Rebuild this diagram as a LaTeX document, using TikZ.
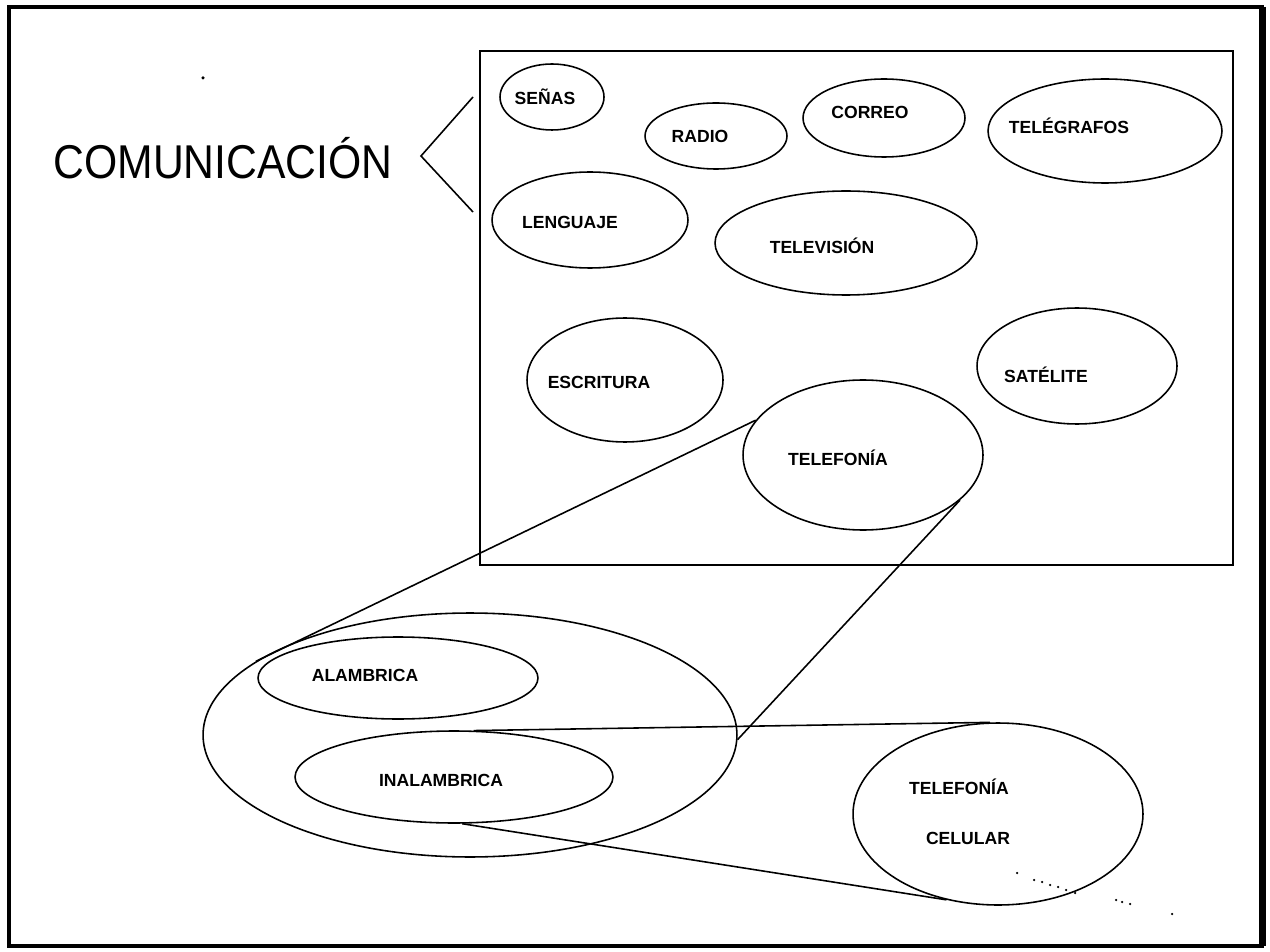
\documentclass[tikz,border=0pt]{standalone}
\usepackage{fontspec}
\setmainfont{Liberation Sans}
\usepackage{tikz}
\usetikzlibrary{shapes.geometric}

\begin{document}
\begin{tikzpicture}[x=0.02cm,y=-0.02cm,line width=0.9pt,
    oval/.style={shape=ellipse,draw=black,inner sep=0pt},
    lbl/.style={font=\bfseries\fontsize{10}{12}\selectfont,inner sep=0pt}]
    \useasboundingbox (0,0) rectangle (1270,952);
    \draw[line width=2.4pt] (9,7) rectangle (1262,946);
    \draw[line width=4pt] (1262,7) -- (1262,946);

    \node[font=\fontsize{27}{30}\selectfont,xscale=0.9] (com) at (223,158) {COMUNICACIÓN};
    \coordinate (tip) at (421,156);
    \coordinate (up) at (473,97);
    \coordinate (dn) at (473,212);
    \draw (up) -- (tip) -- (dn);

    \draw (480,51) rectangle (1233,565);

    \node[oval,minimum width=2.08cm,minimum height=1.32cm,label={[lbl,xshift=-0.14cm]center:SEÑAS}] (senas) at (552,97) {};
    \node[oval,minimum width=2.84cm,minimum height=1.32cm,label={[lbl,xshift=-0.32cm]center:RADIO}] (radio) at (716,136) {};
    \node[oval,minimum width=3.24cm,minimum height=1.56cm,label={[lbl,xshift=-0.28cm,yshift=0.12cm]center:CORREO}] (correo) at (884,118) {};
    \node[oval,minimum width=4.68cm,minimum height=2.08cm,label={[lbl,xshift=-0.72cm,yshift=0.1cm]center:TELÉGRAFOS}] (telegrafos) at (1105,131) {};

    \node[oval,minimum width=3.92cm,minimum height=1.92cm,label={[lbl,xshift=-0.4cm,yshift=-0.04cm]center:LENGUAJE}] (lenguaje) at (590,220) {};
    \node[oval,minimum width=5.24cm,minimum height=2.08cm,label={[lbl,xshift=-0.48cm,yshift=-0.06cm]center:TELEVISIÓN}] (tv) at (846,243) {};

    \node[oval,minimum width=3.92cm,minimum height=2.48cm,label={[lbl,xshift=-0.52cm,yshift=-0.04cm]center:ESCRITURA}] (escritura) at (625,380) {};
    \node[oval,minimum width=4.0cm,minimum height=2.32cm,label={[lbl,xshift=-0.62cm,yshift=-0.18cm]center:SATÉLITE}] (satelite) at (1077,366) {};
    \node[oval,minimum width=4.8cm,minimum height=3.0cm,label={[lbl,xshift=-0.5cm,yshift=-0.06cm]center:TELEFONÍA}] (telefonia) at (863,455) {};

    % zoom on telefonia
    \node[oval,minimum width=10.68cm,minimum height=4.88cm] (grande) at (470,735) {};
    \node[oval,minimum width=5.6cm,minimum height=1.64cm,label={[lbl,xshift=-0.66cm,yshift=0.06cm]center:ALAMBRICA}] (alambrica) at (398,678) {};
    \node[oval,minimum width=6.36cm,minimum height=1.84cm,label={[lbl,xshift=-0.26cm,yshift=-0.06cm]center:INALAMBRICA}] (inalambrica) at (454,777) {};
    \node[oval,minimum width=5.8cm,minimum height=3.64cm,
        label={[lbl,xshift=-0.78cm,yshift=0.54cm]center:TELEFONÍA},
        label={[lbl,xshift=-0.6cm,yshift=-0.48cm]center:CELULAR}] (celular) at (998,814) {};

    \draw (telefonia.162) -- (grande.161);
    \draw (telefonia.-25) -- (grande.-1);
    \draw (inalambrica.67) -- (celular.95);
    \draw (inalambrica.-80) -- (celular.-121);

    % specks
    \fill (203,78) circle (0.035cm);
    \foreach \p in {(1017,873),(1034,880),(1042,882),(1050,885),(1058,887),(1066,890),(1075,893),(1116,900),(1122,902),(1130,904),(1172,914)}
        \fill \p circle (0.025cm);
\end{tikzpicture}
\end{document}
